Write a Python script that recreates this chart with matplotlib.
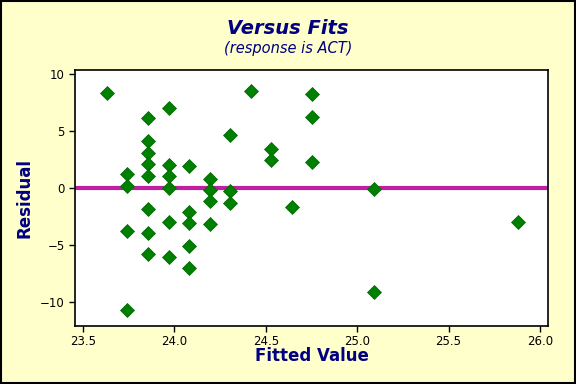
import numpy as np
from matplotlib import pyplot as plt
from matplotlib.patches import Rectangle

# Residuals vs fitted values (response is ACT)
fitted = [23.633,
          23.742, 23.742, 23.742, 23.742,
          23.855, 23.855, 23.855, 23.855, 23.855, 23.855, 23.855, 23.855,
          23.970, 23.970, 23.970, 23.970, 23.970, 23.970,
          24.081, 24.081, 24.081, 24.081, 24.081,
          24.196, 24.196, 24.196, 24.196,
          24.305, 24.305, 24.305,
          24.418,
          24.530, 24.530,
          24.644,
          24.753, 24.753, 24.753,
          25.092, 25.092,
          25.879]
residual = [8.33,
            1.20, 0.17, -3.76, -10.74,
            6.13, 4.14, 3.11, 2.11, 1.09, -1.88, -3.93, -5.84,
            7.01, 2.02, 1.06, 0.00, -3.02, -6.04,
            1.94, -2.14, -3.11, -5.10, -7.07,
            0.79, -0.18, -1.17, -3.17,
            4.64, -0.26, -1.35,
            8.51,
            3.40, 2.46,
            -1.67,
            8.27, 6.25, 2.29,
            -0.11, -9.10,
            -2.94]
xticks = [23.5, 24.0, 24.5, 25.0, 25.5, 26.0]
yticks = [-10, -5, 0, 5, 10]

bg = "#FFFFCC"
navy = "#000080"

fig = plt.figure(figsize=(5.76, 3.84), dpi=100, facecolor=bg)
ax = fig.add_axes([0.1295, 0.152, 0.8225, 0.666])
ax.set_facecolor("white")

ax.axhline(0, color="#C020A0", linewidth=3.0, zorder=2)
ax.plot(fitted, residual, linestyle="none", marker="D", markersize=7,
        color="#008000", markeredgecolor="#006400", markeredgewidth=0.5,
        zorder=3)

ax.set_xlim(23.454, 26.046)
ax.set_ylim(-12.1, 10.4)
ax.set_xticks(xticks)
ax.set_xticklabels(["{:.1f}".format(v) for v in xticks])
ax.set_yticks(yticks)
ax.tick_params(direction="out", length=4, width=1, labelsize=8.5,
               colors="black", pad=3)
for s in ax.spines.values():
    s.set_linewidth(1.2)
    s.set_color("black")

ax.set_xlabel("Fitted Value", fontsize=12, fontweight="bold", color=navy,
              labelpad=-1)
ax.set_ylabel("Residual", fontsize=12, fontweight="bold", color=navy,
              labelpad=5)

fig.text(0.5, 0.927, "Versus Fits", ha="center", va="center", fontsize=14,
         fontweight="bold", fontstyle="italic", color=navy)
fig.text(0.5, 0.875, "(response is ACT)", ha="center", va="center",
         fontsize=10.5, fontstyle="italic", color=navy)

# black border round the whole picture
fig.patches.append(Rectangle((0.0015, 0.002), 0.997, 0.996,
                             transform=fig.transFigure, fill=False,
                             edgecolor="black", linewidth=1.5))

fig.savefig("out.png", dpi=100, facecolor=bg)
